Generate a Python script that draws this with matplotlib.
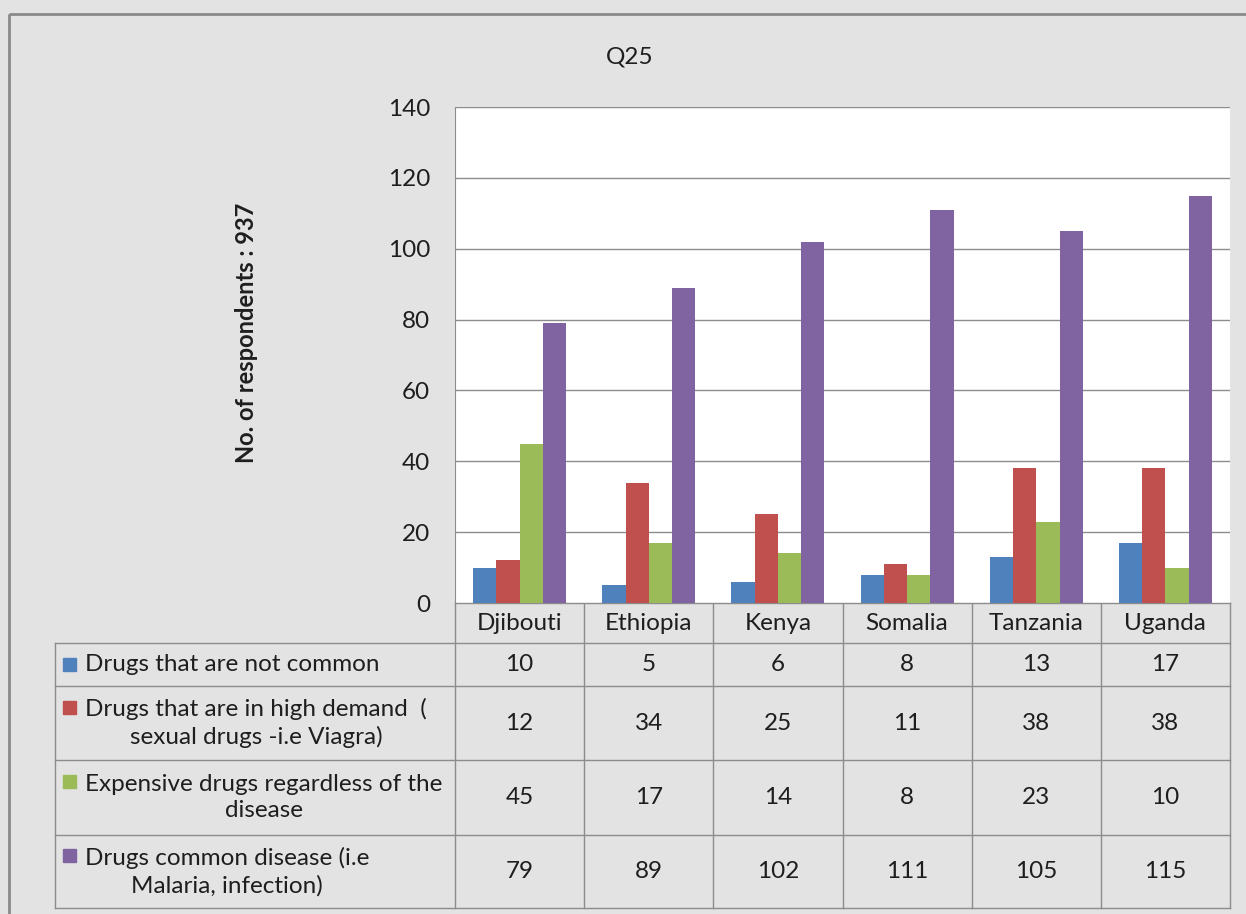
import matplotlib
matplotlib.use("Agg")
import matplotlib.pyplot as plt
import numpy as np
from matplotlib.patches import Rectangle
from matplotlib.lines import Line2D

# ---- data ----
countries = ["Djibouti", "Ethiopia", "Kenya", "Somalia", "Tanzania", "Uganda"]
series_names = [
    "Drugs that are not common",
    "Drugs that are in high demand  (\nsexual drugs -i.e Viagra)",
    "Expensive drugs regardless of the\ndisease",
    "Drugs common disease (i.e\nMalaria, infection)",
]
not_common = [10, 5, 6, 8, 13, 17]
high_demand = [12, 34, 25, 11, 38, 38]
expensive = [45, 17, 14, 8, 23, 10]
common_disease = [79, 89, 102, 111, 105, 115]
values = [not_common, high_demand, expensive, common_disease]
colours = ["#4F81BD", "#C0504D", "#9BBB59", "#8064A2"]
y_ticks = [0, 20, 40, 60, 80, 100, 120, 140]

plt.rcParams["font.family"] = ["Lato", "DejaVu Sans"]
FS = 17.5
TXT = "#1e1e1e"

W, H = 1246, 914
fig = plt.figure(figsize=(W / 100, H / 100), dpi=100)
fig.patch.set_facecolor("#e3e3e3")

# pixel-space overlay for frame and data table
ov = fig.add_axes([0, 0, 1, 1], zorder=0)
ov.set_xlim(0, W)
ov.set_ylim(H, 0)
ov.axis("off")
ov.add_patch(Rectangle((9, 14), W + 10, H + 10, fill=False,
                       edgecolor="#8a8a8a", linewidth=2))

# plot area
px_l, px_r, px_t, px_b = 455, 1230, 107, 603
ax = fig.add_axes([px_l / W, 1 - px_b / H, (px_r - px_l) / W, (px_b - px_t) / H],
                  zorder=1)
ax.set_facecolor("white")
x = np.arange(len(countries))
bw = 0.18
for i, (vals, col) in enumerate(zip(values, colours)):
    ax.bar(x + (i - 1.5) * bw, vals, width=bw, color=col, zorder=3)
ax.set_xlim(-0.5, len(countries) - 0.5)
ax.set_ylim(0, 140)
ax.set_yticks(y_ticks)
ax.set_yticklabels([str(t) for t in y_ticks], fontsize=FS, color=TXT)
ax.set_xticks([])
ax.tick_params(axis="y", length=0, pad=18)
ax.grid(axis="y", color="#8c8c8c", linewidth=1, zorder=0)
for s in ["top", "right", "bottom"]:
    ax.spines[s].set_visible(False)
ax.spines["left"].set_color("#8c8c8c")

fig.text(630 / W, 1 - 57 / H, "Q25", ha="center", va="center",
         fontsize=FS, color=TXT)
fig.text(246 / W, 1 - 333 / H, "No. of respondents : 937", rotation=90,
         ha="center", va="center", fontsize=17, fontweight="bold", color=TXT)

# data table
col_w = (px_r - px_l) / len(countries)
rows = [603, 643, 686, 760, 835, 908]
tab_l = 55
gc = "#8c8c8c"
# horizontal lines
ov.add_line(Line2D([px_l, px_r], [rows[0], rows[0]], color=gc, lw=1))
for yy in rows[1:]:
    ov.add_line(Line2D([tab_l, px_r], [yy, yy], color=gc, lw=1))
# vertical lines
ov.add_line(Line2D([tab_l, tab_l], [rows[1], rows[-1]], color=gc, lw=1))
for j in range(len(countries) + 1):
    xx = px_l + j * col_w
    ov.add_line(Line2D([xx, xx], [rows[0], rows[-1]], color=gc, lw=1))

for j, c in enumerate(countries):
    ov.text(px_l + (j + 0.5) * col_w, (rows[0] + rows[1]) / 2, c,
            ha="center", va="center", fontsize=FS, color=TXT)

for i, (name, vals, col) in enumerate(zip(series_names, values, colours)):
    yc = (rows[i + 1] + rows[i + 2]) / 2
    nlines = name.count("\n") + 1
    first_y = yc - (nlines - 1) * 16
    ov.add_patch(Rectangle((63, first_y - 6.5), 13, 13, color=col))
    ov.text(85, yc, name, ha="left", va="center", multialignment="center",
            fontsize=FS, color=TXT, linespacing=1.35)
    for j, v in enumerate(vals):
        ov.text(px_l + (j + 0.5) * col_w, yc, str(v), ha="center", va="center",
                fontsize=FS, color=TXT)

fig.savefig("out.png", dpi=100, facecolor=fig.get_facecolor())
